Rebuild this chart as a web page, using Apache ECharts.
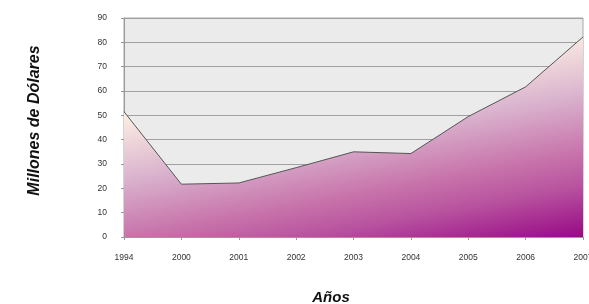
<!DOCTYPE html>
<html>
<head>
<meta charset="utf-8">
<script src="https://cdn.jsdelivr.net/npm/echarts@6/dist/echarts.min.js"></script>
<style>
  html, body { margin: 0; padding: 0; background: #fff; }
  #chart { width: 589px; height: 304px; }
</style>
</head>
<body>
<div id="chart"></div>
<script>
const years = ['1994', '2000', '2001', '2002', '2003', '2004', '2005', '2006', '2007'];
const millones = [51.5, 21.7, 22.2, 28.5, 35, 34.3, 49.5, 61.7, 82.2];
const yTicks = {min: 0, max: 90, step: 10};

let myChart = echarts.init(document.getElementById('chart'), null, {renderer: 'canvas'});
let option = {
    animation: false,
    backgroundColor: '#ffffff',
    grid: {
        left: 124,
        right: 6,
        top: 18,
        bottom: 67,
        outerBoundsMode: 'none',
        containLabel: false,
        show: true,
        backgroundColor: '#ebebeb',
        borderColor: '#a8a8a8',
        borderWidth: 1
    },
    xAxis: {
        type: 'category',
        data: years,
        boundaryGap: false,
        name: 'Años',
        nameLocation: 'center',
        nameGap: 53,
        nameTextStyle: {
            fontFamily: 'Liberation Sans',
            fontWeight: 'bold',
            fontStyle: 'italic',
            fontSize: 15,
            color: '#111',
            padding: [0, 45, 0, 0]
        },
        axisLine: {lineStyle: {color: '#999', width: 1}},
        axisTick: {show: true, length: 3, alignWithLabel: true, lineStyle: {color: '#999'}},
        axisLabel: {
            fontFamily: 'Liberation Sans',
            fontSize: 8.5,
            color: '#333',
            margin: 16,
            hideOverlap: false
        }
    },
    yAxis: {
        type: 'value',
        min: yTicks.min,
        max: yTicks.max,
        interval: yTicks.step,
        name: 'Millones de Dólares',
        nameLocation: 'center',
        nameGap: 81,
        nameRotate: 90,
        nameTextStyle: {
            fontFamily: 'Liberation Sans',
            fontWeight: 'bold',
            fontStyle: 'italic',
            fontSize: 16,
            color: '#111',
            padding: [0, 0, 0, 14]
        },
        axisLine: {show: true, lineStyle: {color: '#999', width: 1}},
        axisTick: {show: true, length: 3, lineStyle: {color: '#999'}},
        splitLine: {lineStyle: {color: '#a0a0a0', width: 1}},
        axisLabel: {
            fontFamily: 'Liberation Sans',
            fontSize: 8.5,
            color: '#333',
            margin: 17
        }
    },
    series: [{
        type: 'line',
        data: millones,
        symbol: 'none',
        lineStyle: {color: '#555555', width: 1},
        areaStyle: {
            opacity: 1,
            // mostly vertical, slightly darker towards the bottom right
            color: new echarts.graphic.LinearGradient(0, 0, 0.112, 1.38, [
                {offset: 0, color: '#fff8ee'},
                {offset: 0.28, color: '#fbede2'},
                {offset: 0.5, color: '#dab3ce'},
                {offset: 0.7, color: '#c874ab'},
                {offset: 0.82, color: '#b8529f'},
                {offset: 1, color: '#980886'}
            ])
        }
    }]
};
myChart.setOption(option);
</script>
</body>
</html>
